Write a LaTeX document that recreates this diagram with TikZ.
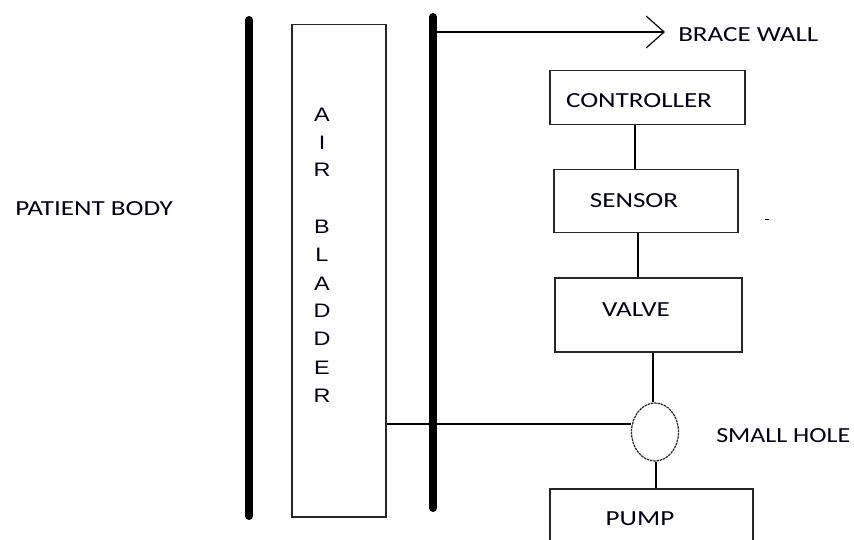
\documentclass[tikz,border=0pt]{standalone}
\usepackage{fontspec}
\setmainfont{Carlito}
\newfontfamily\arialf{Liberation Sans}
\usetikzlibrary{shapes.geometric,arrows.meta}
\tikzset{
  bar/.style={line width=8pt,line cap=round},
  thin/.style={line width=1.3pt},
  boxnode/.style={draw=black!85,line width=1.5pt,inner sep=0pt,anchor=north west},
  lbl/.style={inner sep=0pt,xscale=1.26,font=\fontsize{21.5}{24}\selectfont,text=black!90!blue},
  ltr/.style={inner sep=0pt,xscale=1.2,font=\arialf\fontsize{19.5}{22}\selectfont,text=black!90!blue}
}
\begin{document}
\begin{tikzpicture}[x=1pt,y=-1pt]
\clip (0,0) rectangle (854,540);
\fill[white] (0,0) rectangle (854,540);
% thick bars
\coordinate (lbt) at (249,20);
\coordinate (lbb) at (249,516);
\coordinate (rbt) at (433,17);
\coordinate (rbb) at (433,508);
\draw[bar] (lbt) -- (lbb);
% air bladder
\node[boxnode,minimum width=94pt,minimum height=492pt] (bladder) at (291,24) {};
\foreach \c/\y in {A/115,I/143,R/170,B/227,L/255,A/284,D/311,D/339,E/368,R/396}
  \node[ltr] at (322,\y) {\c};
% boxes
\node[boxnode,minimum width=195pt,minimum height=54pt] (ctrl) at (549,70) {};
\node[lbl] (ctrlt) at (639,101) {CONTROLLER};
\node[boxnode,minimum width=184pt,minimum height=63pt] (sens) at (553,169) {};
\node[lbl] (senst) at (634,201) {SENSOR};
\node[boxnode,minimum width=187pt,minimum height=74pt] (valve) at (554,277) {};
\node[lbl] (valvet) at (636,310) {VALVE};
\node[boxnode,minimum width=203pt,minimum height=70pt] (pump) at (549,488) {};
\node[lbl] (pumpt) at (640,519) {PUMP};
\node[draw=black!85,line width=1.2pt,dash pattern=on 2.5pt off 0.8pt,ellipse,inner sep=0pt,minimum width=47pt,minimum height=58pt] (hole) at (655,432) {};
% labels
\node[lbl,anchor=west] (patient) at (15,209) {PATIENT BODY};
\node[lbl,anchor=west] (brace) at (678,35) {BRACE WALL};
\node[lbl,anchor=west,xscale=0.96] (holet) at (716,436) {SMALL HOLE};
% connectors
\coordinate (c1) at (635,0);
\coordinate (c2) at (638,0);
\coordinate (c3) at (653,0);
\coordinate (c4) at (656,0);
\coordinate (hy) at (0,424);
\coordinate (by) at (0,32);
\coordinate (tip) at (665,32);
\draw[thin] (ctrl.south -| c1) -- (sens.north -| c1);
\draw[thin] (sens.south -| c2) -- (valve.north -| c2);
\draw[thin] (valve.south -| c3) -- (hole.north -| c3);
\draw[thin] (hole.south -| c4) -- (pump.north -| c4);
\draw[thin] (bladder.east |- hy) -- (hole.west |- hy);
\draw[thin,-{Straight Barb[length=18pt,width=32pt,line width=1.2pt]}] (rbt |- by) -- (tip);
\draw[bar] (rbt) -- (rbb);
% stray dot
\draw[line width=1pt] (765,220) -- (769,220);
\end{tikzpicture}
\end{document}
